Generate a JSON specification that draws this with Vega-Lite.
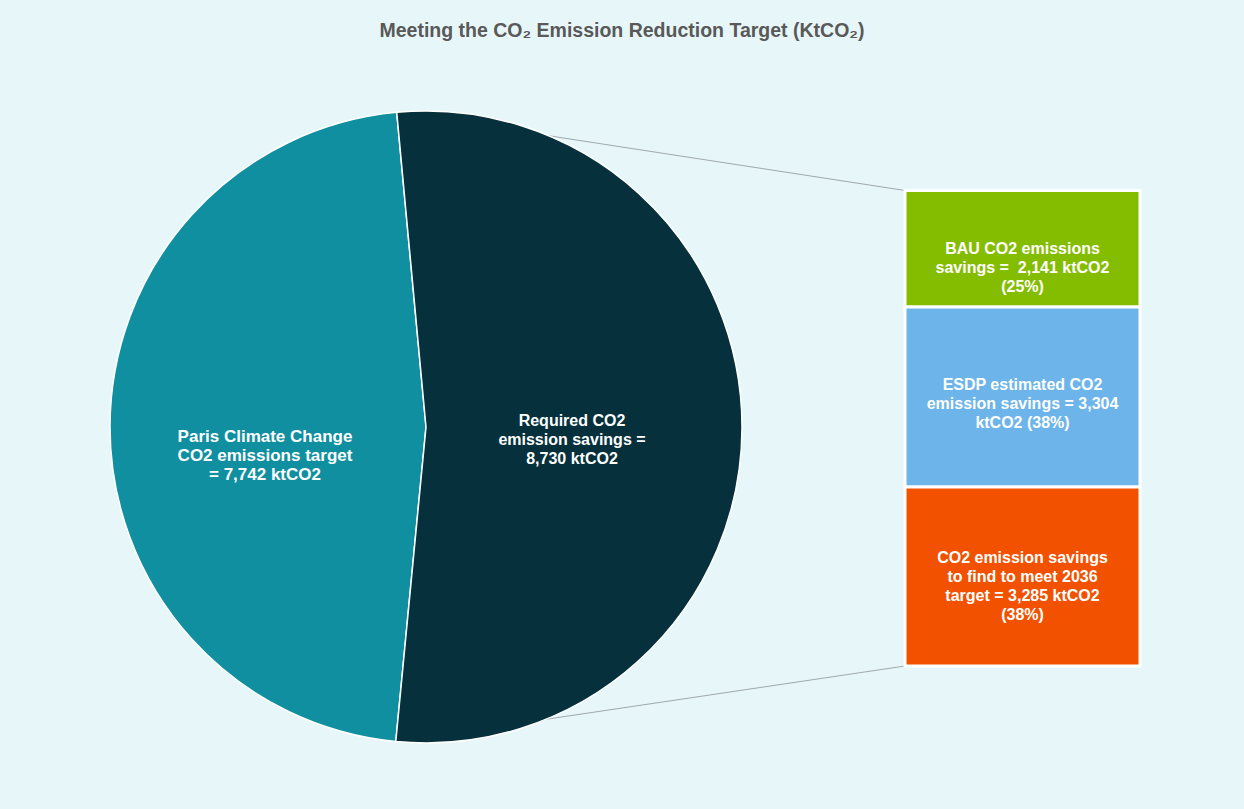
{
  "$schema": "https://vega.github.io/schema/vega-lite/v6.json",
  "width": 1244,
  "height": 759,
  "autosize": {"type": "none"},
  "padding": {"top": 50, "left": 0, "right": 0, "bottom": 0},
  "background": "#e7f6f8",
  "title": {
    "text": "Meeting the CO₂ Emission Reduction Target (KtCO₂)",
    "anchor": "middle",
    "offset": 9,
    "font": "Liberation Sans",
    "fontSize": 19.5,
    "fontWeight": "bold",
    "color": "#595959"
  },
  "datasets": {
    "pie": [
      {"name": "Paris", "kt": 7742, "label": "Paris Climate Change\nCO2 emissions target\n= 7,742 ktCO2"},
      {"name": "Required", "kt": 8730, "label": "Required CO2\nemission savings =\n8,730 ktCO2"}
    ],
    "bar": [
      {"name": "BAU", "kt": 2141, "label": "BAU CO2 emissions\nsavings = \u00a02,141 ktCO2\n(25%)"},
      {"name": "ESDP", "kt": 3304, "label": "ESDP estimated CO2\nemission savings = 3,304\nktCO2 (38%)"},
      {"name": "To find", "kt": 3285, "label": "CO2 emission savings\nto find to meet 2036\ntarget = 3,285 ktCO2\n(38%)"}
    ]
  },
  "layer": [
    {
      "data": {"values": [{}]},
      "mark": {"type": "rule", "color": "#9fa9ae", "strokeWidth": 1},
      "encoding": {
        "x": {"datum": 396.7, "type": "quantitative", "scale": {"domain": [0, 1244], "nice": false, "zero": false}, "axis": null},
        "y": {"datum": 10164, "type": "quantitative", "scale": {"domain": [-2625.4, 11309.5], "nice": false, "zero": false}, "axis": null},
        "x2": {"datum": 905},
        "y2": {"datum": 8730}
      }
    },
    {
      "data": {"values": [{}]},
      "mark": {"type": "rule", "color": "#9fa9ae", "strokeWidth": 1},
      "encoding": {
        "x": {"datum": 395.8, "type": "quantitative", "axis": null},
        "y": {"datum": -1388, "type": "quantitative", "axis": null},
        "x2": {"datum": 905},
        "y2": {"datum": 0}
      }
    },
    {
      "data": {"name": "pie"},
      "encoding": {
        "theta": {"field": "kt", "type": "quantitative", "stack": true, "scale": {"range": [3.2373, 9.5205]}},
        "x": {"datum": 426, "type": "quantitative", "axis": null},
        "y": {"datum": 4388, "type": "quantitative", "axis": null}
      },
      "layer": [
        {
          "mark": {"type": "arc", "radius": 316, "stroke": "white", "strokeWidth": 1.5},
          "encoding": {
            "color": {
              "field": "name",
              "type": "nominal",
              "legend": null,
              "scale": {
                "domain": ["Paris", "Required", "BAU", "ESDP", "To find"],
                "range": ["#0f8f9f", "#06303c", "#84bd00", "#6cb4e9", "#f25100"]
              }
            }
          }
        },
        {
          "mark": {"type": "text", "radius": 161, "dy": 10, "font": "Liberation Sans", "fontSize": 17, "fontWeight": "bold", "color": "white", "align": "center", "baseline": "middle", "lineBreak": "\n", "lineHeight": 19},
          "encoding": {
            "text": {"condition": {"test": "datum.name === 'Paris'", "field": "label"}, "value": ""}
          }
        },
        {
          "mark": {"type": "text", "radius": 146, "dy": -6, "font": "Liberation Sans", "fontSize": 16, "fontWeight": "bold", "color": "white", "align": "center", "baseline": "middle", "lineBreak": "\n", "lineHeight": 19},
          "encoding": {
            "text": {"condition": {"test": "datum.name === 'Required'", "field": "label"}, "value": ""}
          }
        }
      ]
    },
    {
      "data": {"name": "bar"},
      "transform": [
        {"stack": "kt", "groupby": [], "sort": [{"field": "name", "order": "descending"}], "as": ["y0", "y1"]},
        {"calculate": "(datum.y0 + datum.y1) / 2", "as": "ymid"}
      ],
      "layer": [
        {
          "mark": {"type": "rect", "stroke": "white", "strokeWidth": 3},
          "encoding": {
            "x": {"datum": 905, "type": "quantitative", "axis": null},
            "x2": {"datum": 1140},
            "y": {"field": "y0", "type": "quantitative", "axis": null},
            "y2": {"field": "y1"},
            "color": {"field": "name", "type": "nominal", "legend": null}
          }
        },
        {
          "transform": [{"filter": "datum.name === 'BAU'"}],
          "mark": {"type": "text", "dy": 0, "font": "Liberation Sans", "fontSize": 16, "fontWeight": "bold", "color": "white", "align": "center", "baseline": "middle", "lineBreak": "\n", "lineHeight": 19},
          "encoding": {
            "x": {"datum": 1022.5, "type": "quantitative", "axis": null},
            "y": {"field": "ymid", "type": "quantitative", "axis": null},
            "text": {"field": "label"}
          }
        },
        {
          "transform": [{"filter": "datum.name === 'ESDP'"}],
          "mark": {"type": "text", "dy": -12, "font": "Liberation Sans", "fontSize": 16, "fontWeight": "bold", "color": "white", "align": "center", "baseline": "middle", "lineBreak": "\n", "lineHeight": 19},
          "encoding": {
            "x": {"datum": 1022.5, "type": "quantitative", "axis": null},
            "y": {"field": "ymid", "type": "quantitative", "axis": null},
            "text": {"field": "label"}
          }
        },
        {
          "transform": [{"filter": "datum.name === 'To find'"}],
          "mark": {"type": "text", "dy": -19, "font": "Liberation Sans", "fontSize": 16, "fontWeight": "bold", "color": "white", "align": "center", "baseline": "middle", "lineBreak": "\n", "lineHeight": 19},
          "encoding": {
            "x": {"datum": 1022.5, "type": "quantitative", "axis": null},
            "y": {"field": "ymid", "type": "quantitative", "axis": null},
            "text": {"field": "label"}
          }
        }
      ]
    }
  ],
  "config": {"view": {"stroke": null}}
}
